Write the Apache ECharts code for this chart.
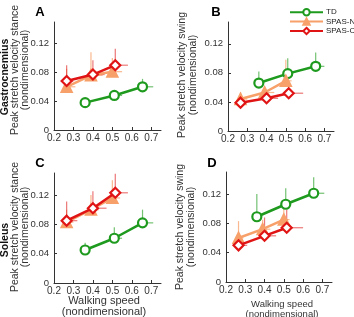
<!DOCTYPE html>
<html>
<head>
<meta charset="utf-8">
<script src="https://cdn.jsdelivr.net/npm/echarts@6/dist/echarts.min.js"></script>
<style>
  html, body { margin: 0; padding: 0; background: #fff; }
  #chart { width: 354px; height: 317px; }
</style>
</head>
<body>
<div id="chart"></div>
<script>
// walking speed per group (nondimensional)
const speedTD = [0.36, 0.51, 0.655]
const speedN = [0.265, 0.39, 0.50]
const speedC = [0.265, 0.40, 0.515]

const xTicks = [0.2, 0.3, 0.4, 0.5, 0.6, 0.7]
const yTicks = [0, 0.04, 0.08, 0.12]

// A: gastrocnemius stance
const aTD = [0.038, 0.048, 0.060]
const aN = [0.060, 0.076, 0.081]
const aC = [0.068, 0.077, 0.090]
const aTDup = [0.041, 0.055, 0.071]
const aNup = [0.085, 0.108, 0.100]
const aCup = [0.090, 0.097, 0.113]
const aTDright = [0.38, 0.55, 0.71]
const aNright = [0.31, 0.45, 0.55]
const aCright = [0.30, 0.46, 0.58]

// B: gastrocnemius swing
const bTD = [0.066, 0.079, 0.089]
const bN = [0.044, 0.053, 0.069]
const bC = [0.039, 0.045, 0.052]
const bTDup = [0.082, 0.100, 0.108]
const bNup = [0.050, 0.060, 0.098]
const bCup = [0.053, 0.055, 0.060]
const bTDright = [0.37, 0.52, 0.70]
const bNright = [0.30, 0.44, 0.53]
const bCright = [0.29, 0.46, 0.59]

// C: soleus stance
const cTD = [0.045, 0.061, 0.082]
const cN = [0.083, 0.100, 0.116]
const cC = [0.085, 0.102, 0.123]
const cTDup = [0.055, 0.076, 0.100]
const cNup = [0.100, 0.120, 0.140]
const cCup = [0.111, 0.125, 0.149]
const cTDright = [0.37, 0.55, 0.71]
const cNright = [0.30, 0.43, 0.54]
const cCright = [0.32, 0.47, 0.58]

// D: soleus swing
const dTD = [0.089, 0.106, 0.121]
const dN = [0.060, 0.072, 0.085]
const dC = [0.050, 0.063, 0.074]
const dTDup = [0.120, 0.128, 0.143]
const dNup = [0.083, 0.085, 0.106]
const dCup = [0.060, 0.088, 0.099]
const dTDright = [0.37, 0.53, 0.71]
const dNright = [0.29, 0.43, 0.53]
const dCright = [0.31, 0.46, 0.60]

const groups = ['TD', 'SPAS-NC', 'SPAS-C']
const colors = { TD: '#1e9a1e', 'SPAS-NC': '#f7a06a', 'SPAS-C': '#e01414' }
const errColors = { TD: 'rgba(40,160,40,0.65)', 'SPAS-NC': 'rgba(247,160,106,0.75)', 'SPAS-C': 'rgba(224,30,30,0.6)' }
const symbols = { TD: 'circle', 'SPAS-NC': 'triangle', 'SPAS-C': 'diamond' }
const symbolSizes = { TD: 9, 'SPAS-NC': 10, 'SPAS-C': 10 }
const fills = { TD: '#fff', 'SPAS-NC': '#f7a06a', 'SPAS-C': '#fff' }

const panels = [
  { speeds: [speedTD, speedN, speedC], vals: [aTD, aN, aC], ups: [aTDup, aNup, aCup], rights: [aTDright, aNright, aCright] },
  { speeds: [speedTD, speedN, speedC], vals: [bTD, bN, bC], ups: [bTDup, bNup, bCup], rights: [bTDright, bNright, bCright] },
  { speeds: [speedTD, speedN, speedC], vals: [cTD, cN, cC], ups: [cTDup, cNup, cCup], rights: [cTDright, cNright, cCright] },
  { speeds: [speedTD, speedN, speedC], vals: [dTD, dN, dC], ups: [dTDup, dNup, dCup], rights: [dTDright, dNright, dCright] },
]

const grids = [
  { left: 54, top: 22, width: 107, height: 108 },
  { left: 228, top: 22, width: 106, height: 109 },
  { left: 54, top: 173, width: 107, height: 110 },
  { left: 226, top: 172, width: 106, height: 110 },
]

const font = 'Liberation Sans, Arial, sans-serif'

const xAxes = grids.map((g, i) => ({
  type: 'value', gridIndex: i, min: 0.2, max: 0.75,
  axisLine: { lineStyle: { color: '#333', width: 1 } },
  axisTick: { show: true, inside: true, length: 3, customValues: xTicks, lineStyle: { color: '#333' } },
  axisLabel: { color: '#333', fontSize: 10, fontFamily: font, margin: 3, customValues: xTicks, formatter: v => v.toFixed(1) },
  splitLine: { show: false },
}))

const yAxes = grids.map((g, i) => ({
  type: 'value', gridIndex: i, min: 0, max: 0.15,
  axisLine: { show: true, lineStyle: { color: '#333', width: 1 } },
  axisTick: { show: true, inside: true, length: 3, customValues: yTicks, lineStyle: { color: '#333' } },
  axisLabel: { color: '#333', fontSize: 9.5, fontFamily: font, margin: 5, customValues: yTicks, formatter: v => (v === 0 ? '0' : v.toFixed(2)) },
  splitLine: { show: false },
}))

function errorBar(color) {
  return function (params, api) {
    const p = api.coord([api.value(0), api.value(1)])
    const r = api.coord([api.value(2), api.value(1)])
    const u = api.coord([api.value(0), api.value(3)])
    const style = { stroke: color, lineWidth: 1.2 }
    return {
      type: 'group',
      children: [
        { type: 'line', shape: { x1: p[0], y1: p[1], x2: r[0], y2: r[1] }, style },
        { type: 'line', shape: { x1: p[0], y1: p[1], x2: u[0], y2: u[1] }, style },
      ],
    }
  }
}

const series = []
panels.forEach((p, i) => {
  groups.forEach((name, k) => {
    const xs = p.speeds[k]
    series.push({
      type: 'custom', name: name + ' err', xAxisIndex: i, yAxisIndex: i, z: 1,
      renderItem: errorBar(errColors[name]),
      data: xs.map((x, j) => [x, p.vals[k][j], p.rights[k][j], p.ups[k][j]]),
      silent: true,
    })
  })
  groups.forEach((name, k) => {
    const xs = p.speeds[k]
    series.push({
      type: 'line', name, xAxisIndex: i, yAxisIndex: i, z: 2 + k,
      data: xs.map((x, j) => [x, p.vals[k][j]]),
      symbol: symbols[name], symbolSize: symbolSizes[name],
      lineStyle: { color: colors[name], width: 2.5 },
      itemStyle: { color: fills[name], borderColor: colors[name], borderWidth: 2.2 },
      animation: false,
    })
  })
})

function txt(x, y, text, fontSpec, rotated, fill) {
  const el = {
    type: 'text', x, y,
    style: { text, fill: fill || '#333', font: fontSpec + ' ' + font, align: 'center', verticalAlign: 'middle' },
  }
  if (rotated) el.rotation = Math.PI / 2
  return el
}

const graphic = [
  txt(40, 12, 'A', 'bold 13px', false, '#000'),
  txt(216, 12, 'B', 'bold 13px', false, '#000'),
  txt(40, 163, 'C', 'bold 13px', false, '#000'),
  txt(212, 163, 'D', 'bold 13px', false, '#000'),
  txt(5, 77, 'Gastrocnemius', 'bold 10.5px', true, '#111'),
  txt(15, 70, 'Peak stretch velocity stance', '10.5px', true),
  txt(25, 70, '(nondimensional)', '10.5px', true),
  txt(182, 75, 'Peak stretch velocity swing', '10.5px', true),
  txt(193, 75, '(nondimensional)', '10.5px', true),
  txt(5, 240, 'Soleus', 'bold 10.5px', true, '#111'),
  txt(15, 227, 'Peak stretch velocity stance', '10.5px', true),
  txt(25, 227, '(nondimensional)', '10.5px', true),
  txt(180, 227, 'Peak stretch velocity swing', '10.5px', true),
  txt(191, 227, '(nondimensional)', '10.5px', true),
  txt(104, 301, 'Walking speed', '11px'),
  txt(104, 312, '(nondimensional)', '11px'),
  txt(282, 304, 'Walking speed', '9.5px'),
  txt(282, 314, '(nondimensional)', '9.5px'),
]

const chart = echarts.init(document.getElementById('chart'), null, { renderer: 'canvas' })
chart.setOption({
  animation: false,
  grid: grids.map(g => Object.assign({ containLabel: false }, g)),
  xAxis: xAxes,
  yAxis: yAxes,
  legend: {
    data: groups, orient: 'vertical', left: 289, top: 8, padding: 0,
    itemWidth: 33, itemHeight: 8, itemGap: 1,
    textStyle: { fontSize: 8, fontFamily: font, color: '#222', padding: [0, 0, 0, -2] },
  },
  graphic,
  series,
})
</script>
</body>
</html>
